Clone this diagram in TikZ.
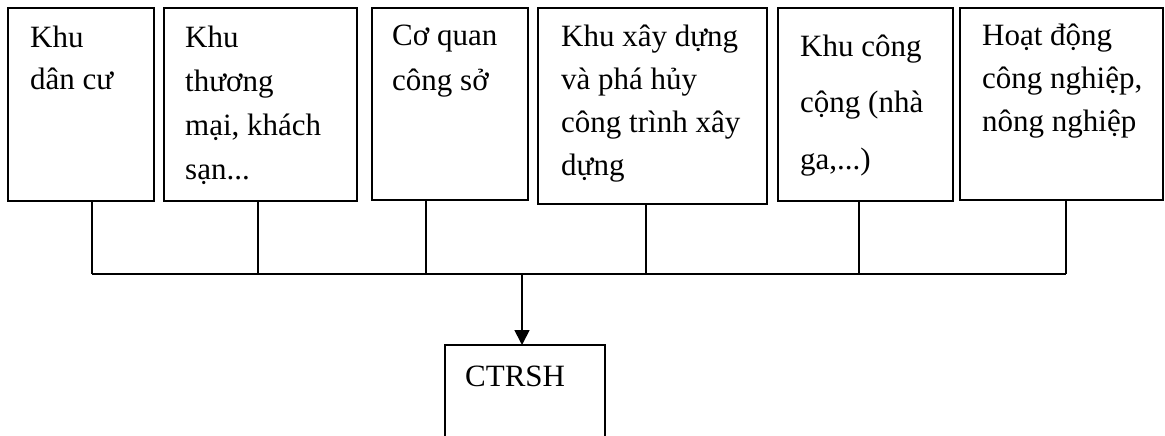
\documentclass[tikz,border=0pt]{standalone}
\usepackage{fontspec}
\setmainfont{Liberation Serif}
\usetikzlibrary{arrows.meta}
\begin{document}
\begin{tikzpicture}[x=1pt,y=-1pt,
  box/.style={draw, line width=1.7pt, rectangle, inner sep=0pt, outer sep=0pt, anchor=north west},
  txt/.style={anchor=base west, inner sep=0pt, font=\fontsize{31}{44}\selectfont},
  wire/.style={line width=1.7pt},
  arr/.style={line width=1.7pt, -{Triangle[width=15pt,length=15pt]}}]
\useasboundingbox (0,0) rectangle (1165,436);
\clip (0,0) rectangle (1165,436);
% boxes
\node[box, minimum width=146, minimum height=193] (b1) at (8,8) {};
\node[box, minimum width=193, minimum height=193] (b2) at (164,8) {};
\node[box, minimum width=156, minimum height=192] (b3) at (372,8) {};
\node[box, minimum width=229, minimum height=196] (b4) at (538,8) {};
\node[box, minimum width=175, minimum height=193] (b5) at (778,8) {};
\node[box, minimum width=203, minimum height=192] (b6) at (960,8) {};
\node[box, minimum width=160, minimum height=95] (c) at (445,345) {};
% texts
\node[txt] (l1) at (30,48) {\parbox[t]{300pt}{Khu\\[-2pt]dân cư}};
\node[txt] (l2) at (185,48) {\parbox[t]{300pt}{Khu\\thương\\mại, khách\\sạn...}};
\node[txt] (l3) at (392,46) {\parbox[t]{300pt}{Cơ quan\\công sở}};
\node[txt] (l4) at (561,47) {\parbox[t]{300pt}{Khu xây dựng\\[-1pt]và phá hủy\\[-1pt]công trình xây\\[-1pt]dựng}};
\node[txt] (l5) at (800,57) {\parbox[t]{300pt}{Khu công\\[11pt]cộng (nhà\\[14pt]ga,...)}};
\node[txt] (l6) at (982,46) {\parbox[t]{300pt}{Hoạt động\\[-1pt]công nghiệp,\\[-1pt]nông nghiệp}};
\node[txt] (lc) at (465,386) {CTRSH};
% taps
\coordinate (p1) at (92,274);
\coordinate (p2) at (258,274);
\coordinate (p3) at (426,274);
\coordinate (p4) at (646,274);
\coordinate (p5) at (859,274);
\coordinate (p6) at (1066,274);
\coordinate (pa) at (522,274);
\draw[wire] (p1) -- (p6);
\foreach \i in {1,...,6} \draw[wire] (b\i.south -| p\i) -- (p\i);
\draw[arr] (pa) -- (pa |- c.north);
\end{tikzpicture}
\end{document}
